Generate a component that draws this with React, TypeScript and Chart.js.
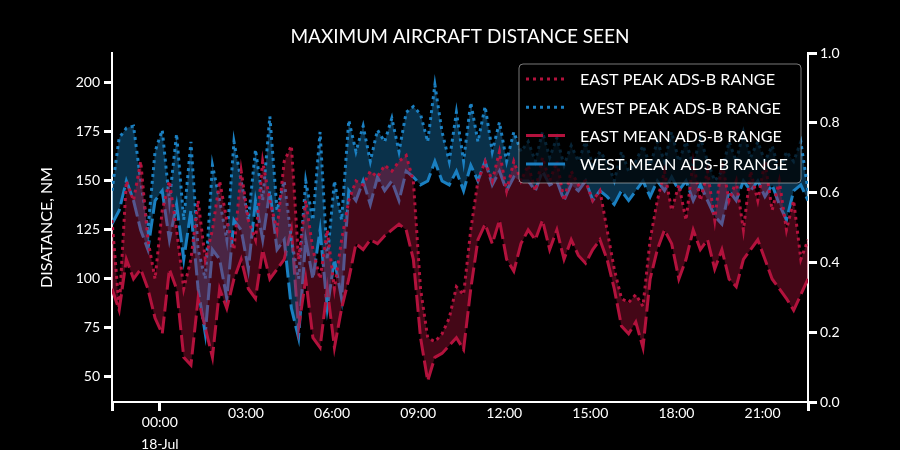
import { useEffect, useRef } from "react";
import { Chart, registerables } from "chart.js";

Chart.register(...registerables);

// Time axis: hours relative to 18-Jul 00:00, 15-minute samples starting 17-Jul 22:20
const START_HOUR = -5 / 3;
const STEP_HOURS = 0.25;

const eastPeak = [
  130, 85, 150, 140, 160, 120, 100, 135, 150, 125, 95, 110, 140, 110, 125, 150, 130, 115, 155, 130,
  120, 160, 140, 125, 160, 168, 110, 140, 115, 100, 125, 95, 120, 140, 150, 148, 155, 152, 158, 155,
  160, 163, 150, 95, 70, 68, 72, 80, 96, 92, 125, 150, 160, 150, 165, 145, 160, 150, 158, 145,
  162, 150, 160, 140, 155, 148, 150, 140, 145, 125, 105, 90, 88, 92, 86, 120, 140, 155, 135, 148,
  130, 160, 140, 155, 130, 160, 140, 150, 125, 155, 140, 160, 135, 150, 125, 140, 110, 120,
];
const eastMean = [
  95, 84, 110, 100, 105, 95, 80, 72, 105, 95, 60, 56, 90, 75, 60, 95, 85, 100, 110, 95,
  90, 115, 100, 105, 110, 125, 75, 100, 70, 65, 95, 65, 85, 100, 118, 115, 120, 118, 122, 125,
  128, 125, 110, 70, 48, 60, 62, 66, 70, 64, 95, 120, 128, 118, 130, 110, 104, 118, 125, 120,
  130, 115, 125, 110, 120, 112, 108, 115, 120, 110, 95, 76, 72, 78, 65, 100, 115, 125, 118, 100,
  110, 125, 115, 120, 105, 115, 100, 96, 110, 115, 120, 110, 100, 95, 90, 84, 92, 100,
];
const westPeak = [
  145, 172, 177, 178, 150, 125, 165, 176, 140, 174, 130, 170, 115, 100, 158, 140, 120, 170, 150, 130,
  166, 140, 183, 135, 150, 120, 100, 150, 130, 175, 110, 150, 130, 181, 165, 178, 160, 176, 170, 182,
  165, 185, 188, 184, 170, 199, 175, 160, 185, 160, 190, 170, 188, 165, 180, 160, 175, 165, 170, 160,
  175, 162, 172, 158, 168, 160, 170, 158, 165, 160, 150, 165, 155, 160, 168, 158, 170, 160, 175, 160,
  170, 158, 172, 160, 150, 155, 170, 160, 175, 162, 170, 160, 168, 155, 165, 160, 170, 145,
];
const westMean = [
  128, 135, 150, 140, 125, 115, 140, 145, 120, 138, 110, 135, 95, 72, 115, 110, 90, 130, 125, 105,
  140, 120, 145, 115, 120, 85, 70, 120, 100, 125, 85, 110, 90, 145, 140, 150, 138, 152, 145, 150,
  140, 155, 152, 148, 150, 160, 150, 148, 155, 145, 158, 150, 160, 148, 155, 145, 152, 150, 150, 145,
  155, 148, 150, 140, 148, 145, 150, 140, 145, 142, 138, 145, 140, 145, 150, 142, 150, 145, 152, 145,
  150, 140, 148, 140, 132, 128, 145, 140, 150, 145, 150, 142, 148, 138, 130, 145, 148, 140,
];

const seriesLabels = [
  "EAST PEAK ADS-B RANGE",
  "WEST PEAK ADS-B RANGE",
  "EAST MEAN ADS-B RANGE",
  "WEST MEAN ADS-B RANGE",
];
const xTickHours = [0, 3, 6, 9, 12, 15, 18, 21];
const xTickLabels = ["00:00", "03:00", "06:00", "09:00", "12:00", "15:00", "18:00", "21:00"];
const dateLabel = "18-Jul";
const leftTicks = [50, 75, 100, 125, 150, 175, 200];
const rightTicks = [0, 0.2, 0.4, 0.6, 0.8, 1.0];
const titleText = "MAXIMUM AIRCRAFT DISTANCE SEEN";
const yTitle = "DISATANCE, NM";

const RED = "#b3123d";
const BLUE = "#1b80c2";
const RED_FILL = "rgba(179,18,61,0.38)";
const BLUE_FILL = "rgba(27,128,194,0.38)";
const FONT = "Lato, 'Open Sans', sans-serif";

const toPoints = (arr: number[]) => arr.map((v, i) => ({ x: START_HOUR + i * STEP_HOURS, y: v }));

const X_MIN = START_HOUR;
const X_MAX = START_HOUR + (eastPeak.length - 1) * STEP_HOURS;

const dashes = [[3, 4], [3, 4], [17, 5], [17, 5]];
const colors = [RED, BLUE, RED, BLUE];

const bgPlugin = {
  id: "bg",
  beforeDraw(chart: any) {
    const ctx = chart.ctx;
    ctx.save();
    ctx.fillStyle = "#000";
    ctx.fillRect(0, 0, chart.width, chart.height);
    ctx.restore();
  },
};

const legendPlugin = {
  id: "xkcdLegend",
  afterDraw(chart: any) {
    const ctx = chart.ctx;
    const area = chart.chartArea;
    const w = 282;
    const h = 119;
    const x0 = area.right - 7 - w;
    const y0 = area.top + 11;
    ctx.save();
    ctx.beginPath();
    ctx.roundRect(x0, y0, w, h, 4);
    ctx.fillStyle = "rgba(0,0,0,0.72)";
    ctx.fill();
    ctx.lineWidth = 1;
    ctx.strokeStyle = "rgba(200,200,200,0.6)";
    ctx.stroke();
    ctx.font = `16.2px ${FONT}`;
    ctx.textBaseline = "middle";
    ctx.fillStyle = "#fff";
    for (let i = 0; i < seriesLabels.length; i++) {
      const cy = y0 + 15 + i * 28.3;
      ctx.beginPath();
      ctx.setLineDash(dashes[i]);
      ctx.lineWidth = 3;
      ctx.strokeStyle = colors[i];
      ctx.moveTo(x0 + 7, cy);
      ctx.lineTo(x0 + 47, cy);
      ctx.stroke();
      ctx.setLineDash([]);
      ctx.fillText(seriesLabels[i], x0 + 61, cy + 1);
    }
    ctx.restore();
  },
};

export default function App() {
  const ref = useRef<HTMLCanvasElement | null>(null);
  useEffect(() => {
    if (!ref.current) return;
    const tickFont = { family: FONT, size: 14 };
    const chart = new Chart(ref.current, {
      type: "line",
      data: {
        datasets: [
          {
            label: seriesLabels[0],
            data: toPoints(eastPeak),
            borderColor: RED,
            borderWidth: 3,
            borderDash: dashes[0],
            pointRadius: 0,
            tension: 0,
            fill: 2,
            backgroundColor: RED_FILL,
          },
          {
            label: seriesLabels[1],
            data: toPoints(westPeak),
            borderColor: BLUE,
            borderWidth: 3,
            borderDash: dashes[1],
            pointRadius: 0,
            tension: 0,
            fill: 3,
            backgroundColor: BLUE_FILL,
          },
          {
            label: seriesLabels[2],
            data: toPoints(eastMean),
            borderColor: RED,
            borderWidth: 3,
            borderDash: dashes[2],
            pointRadius: 0,
            tension: 0,
            fill: false,
          },
          {
            label: seriesLabels[3],
            data: toPoints(westMean),
            borderColor: BLUE,
            borderWidth: 3,
            borderDash: dashes[3],
            pointRadius: 0,
            tension: 0,
            fill: false,
          },
        ],
      },
      options: {
        animation: false,
        responsive: false,
        devicePixelRatio: 1,
        layout: { padding: 0 },
        plugins: {
          legend: { display: false },
          tooltip: { enabled: false },
          title: {
            display: true,
            fullSize: false,
            text: titleText,
            color: "#fff",
            font: { family: FONT, size: 19, weight: "normal", lineHeight: 1.2 },
            padding: { top: 25, bottom: 5.2 },
          },
        },
        scales: {
          x: {
            type: "linear",
            position: "bottom",
            min: X_MIN,
            max: X_MAX,
            afterBuildTicks: (s: any) => {
              s.ticks = [X_MIN, ...xTickHours, X_MAX].map((v) => ({ value: v }));
            },
            ticks: {
              color: "#fff",
              font: (c: any) => ({
                family: FONT,
                size: 14,
                lineHeight: c.tick && c.tick.value === 0 ? "22px" : "5px",
              }),
              padding: 0,
              autoSkip: false,
              maxRotation: 0,
              callback: (v: any) => {
                const i = xTickHours.indexOf(v);
                if (i === 0) return [xTickLabels[0], dateLabel];
                return i > 0 ? xTickLabels[i] : "";
              },
            },
            grid: {
              drawOnChartArea: false,
              drawTicks: true,
              tickLength: 9,
              tickWidth: 3,
              tickColor: (c: any) =>
                c.tick && (c.tick.value === 0 || c.tick.value === X_MIN || c.tick.value === X_MAX)
                  ? "#fff"
                  : "rgba(0,0,0,0)",
            },
            border: { color: "#fff", width: 2 },
            afterFit: (s: any) => {
              s.height = 48;
            },
          },
          y: {
            type: "linear",
            position: "left",
            min: 37.2,
            max: 215.3,
            afterBuildTicks: (s: any) => {
              s.ticks = leftTicks.map((v) => ({ value: v }));
            },
            ticks: { color: "#fff", font: tickFont, padding: 4 },
            grid: { drawOnChartArea: false, tickLength: 8, tickWidth: 3, tickColor: "#fff" },
            border: { color: "#fff", width: 2 },
            title: {
              display: true,
              text: yTitle,
              color: "#fff",
              font: { family: FONT, size: 16 },
              padding: { top: 37.4, bottom: 0 },
            },
            afterFit: (s: any) => {
              s.width = 112;
            },
          },
          y2: {
            type: "linear",
            position: "right",
            min: 0,
            max: 1,
            afterBuildTicks: (s: any) => {
              s.ticks = rightTicks.map((v) => ({ value: v }));
            },
            ticks: {
              color: "#fff",
              font: tickFont,
              padding: 3,
              callback: (v: any) => Number(v).toFixed(1),
            },
            grid: { drawOnChartArea: false, tickLength: 9, tickWidth: 3, tickColor: "#fff" },
            border: { color: "#fff", width: 2 },
            afterFit: (s: any) => {
              s.width = 92;
            },
          },
        },
      } as any,
      plugins: [bgPlugin, legendPlugin],
    });
    return () => chart.destroy();
  }, []);
  return (
    <div style={{ position: "absolute", left: 0, top: 0, width: 900, height: 450, background: "#000" }}>
      <canvas ref={ref} width={900} height={450} />
    </div>
  );
}
